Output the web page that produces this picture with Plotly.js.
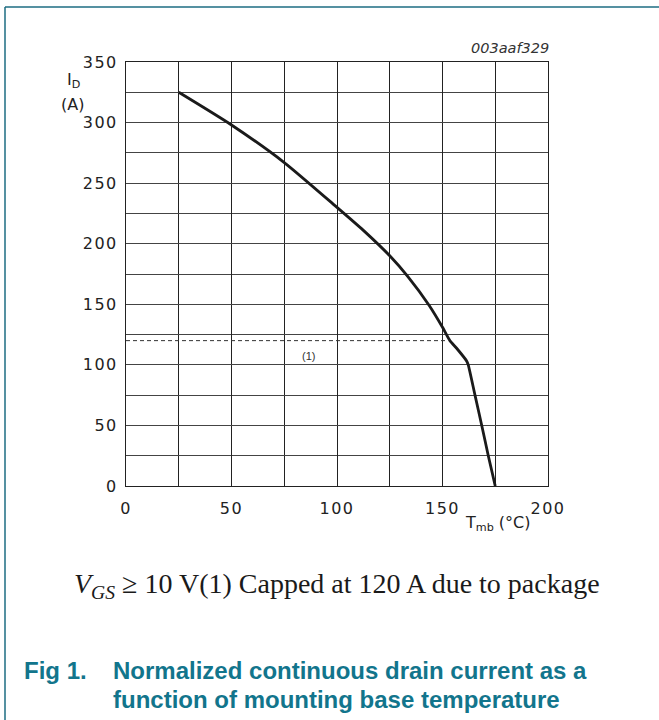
<!DOCTYPE html>
<html>
<head>
<meta charset="utf-8">
<script src="https://cdn.plot.ly/plotly-3.0.1.min.js"></script>
<style>
  html, body { margin: 0; padding: 0; background: #fff; }
  #chart { width: 659px; height: 720px; }
  .xtick text, .ytick text { letter-spacing: 1.5px; }
</style>
</head>
<body>
<div id="chart"></div>
<script>
// Data
const tempC    = [25, 50, 75, 100, 112.5, 125, 133.5, 143.7, 150, 153.5, 156.7, 161.5, 162.2, 165.4, 168.6, 171.7, 175];
const currentA = [325, 298, 267, 230, 211, 190, 173, 149, 131, 120, 113.7, 103, 100, 75, 50, 25, 0];
const capTemp = [0, 152];
const capCurrent = [120, 120];
const xTickVals = [0, 50, 100, 150, 200];
const yTickVals = [0, 50, 100, 150, 200, 250, 300, 350];

const teal = '#12758c';
const frameTeal = '#1c6c82';

const traces = [
  {
    x: capTemp, y: capCurrent, type: 'scatter', mode: 'lines',
    line: { color: '#333', width: 1, dash: '4px,3px' },
    hoverinfo: 'skip', showlegend: false
  },
  {
    x: tempC, y: currentA, type: 'scatter', mode: 'lines',
    line: { color: '#1a1a1a', width: 2.8, shape: 'spline', smoothing: 0.6 },
    showlegend: false
  }
];

function px2x(px) { return (px - 126) / 422; }
function py2y(py) { return (486 - py) / 424; }

const layout = {
  width: 659, height: 720,
  margin: { l: 126, r: 111, t: 62, b: 234 },
  paper_bgcolor: '#fff', plot_bgcolor: '#fff',
  showlegend: false,
  xaxis: {
    range: [0, 200], tickvals: xTickVals, ticktext: xTickVals.map(String),
    showgrid: true, gridcolor: '#222', gridwidth: 1,
    minor: { dtick: 25, tick0: 0, showgrid: true, gridcolor: '#222', gridwidth: 1 },
    showline: true, mirror: true, linecolor: '#222', linewidth: 1,
    ticks: '', ticklabelstandoff: 8, zeroline: false,
    tickfont: { family: 'DejaVu Sans, sans-serif', size: 16, color: '#222' },
    fixedrange: true
  },
  yaxis: {
    range: [0, 350], tickvals: yTickVals, ticktext: yTickVals.map(String),
    showgrid: true, gridcolor: '#444', gridwidth: 1,
    minor: { dtick: 25, tick0: 0, showgrid: true, gridcolor: '#444', gridwidth: 1 },
    showline: true, mirror: true, linecolor: '#222', linewidth: 1,
    ticks: '', ticklabelstandoff: 4, zeroline: false,
    tickfont: { family: 'DejaVu Sans, sans-serif', size: 16, color: '#222' },
    fixedrange: true
  },
  shapes: [
    { type: 'line', xref: 'paper', yref: 'paper', x0: px2x(5), x1: px2x(659), y0: py2y(7), y1: py2y(7),
      line: { color: frameTeal, width: 1.5 } },
    { type: 'line', xref: 'paper', yref: 'paper', x0: px2x(5), x1: px2x(5), y0: py2y(7), y1: py2y(720),
      line: { color: frameTeal, width: 1.5 } }
  ],
  annotations: [
    { text: '<i>003aaf329</i>', xref: 'paper', yref: 'paper', x: px2x(551), y: py2y(48),
      xanchor: 'right', yanchor: 'middle', showarrow: false,
      font: { family: 'DejaVu Sans, sans-serif', size: 14.5, color: '#333' } },
    { text: 'I<sub>D</sub>', xref: 'paper', yref: 'paper', x: px2x(73), y: py2y(80),
      xanchor: 'center', yanchor: 'middle', showarrow: false,
      font: { family: 'DejaVu Sans, sans-serif', size: 16, color: '#222' } },
    { text: '(A)', xref: 'paper', yref: 'paper', x: px2x(72), y: py2y(105),
      xanchor: 'center', yanchor: 'middle', showarrow: false,
      font: { family: 'DejaVu Sans, sans-serif', size: 16, color: '#222' } },
    { text: 'T<sub>mb</sub> (°C)', xref: 'paper', yref: 'paper', x: px2x(498), y: py2y(523),
      xanchor: 'center', yanchor: 'middle', showarrow: false,
      font: { family: 'DejaVu Sans, sans-serif', size: 16, color: '#222' } },
    { text: '(1)', xref: 'x', yref: 'y', x: 86.7, y: 107.3,
      xanchor: 'center', yanchor: 'middle', showarrow: false,
      font: { family: 'Liberation Sans, Arial, sans-serif', size: 11, color: '#333' } },
    { text: '<i>V</i><sub><i>GS</i></sub> ≥ 10 V(1) Capped at 120 A due to package',
      xref: 'paper', yref: 'paper', x: px2x(337), y: py2y(585),
      xanchor: 'center', yanchor: 'middle', showarrow: false,
      font: { family: 'Liberation Serif, Times New Roman, serif', size: 28, color: '#1a1a1a' } },
    { text: '<b>Fig 1.</b>', xref: 'paper', yref: 'paper', x: px2x(22), y: py2y(670),
      xanchor: 'left', yanchor: 'middle', showarrow: false,
      font: { family: 'Liberation Sans, Arial, sans-serif', size: 24, color: teal } },
    { text: '<b>Normalized continuous drain current as a</b>', xref: 'paper', yref: 'paper', x: px2x(111), y: py2y(670),
      xanchor: 'left', yanchor: 'middle', showarrow: false,
      font: { family: 'Liberation Sans, Arial, sans-serif', size: 24, color: teal } },
    { text: '<b>function of mounting base temperature</b>', xref: 'paper', yref: 'paper', x: px2x(111), y: py2y(699),
      xanchor: 'left', yanchor: 'middle', showarrow: false,
      font: { family: 'Liberation Sans, Arial, sans-serif', size: 24, color: teal } }
  ]
};

Plotly.newPlot('chart', traces, layout, { staticPlot: true, displayModeBar: false });
</script>
</body>
</html>
